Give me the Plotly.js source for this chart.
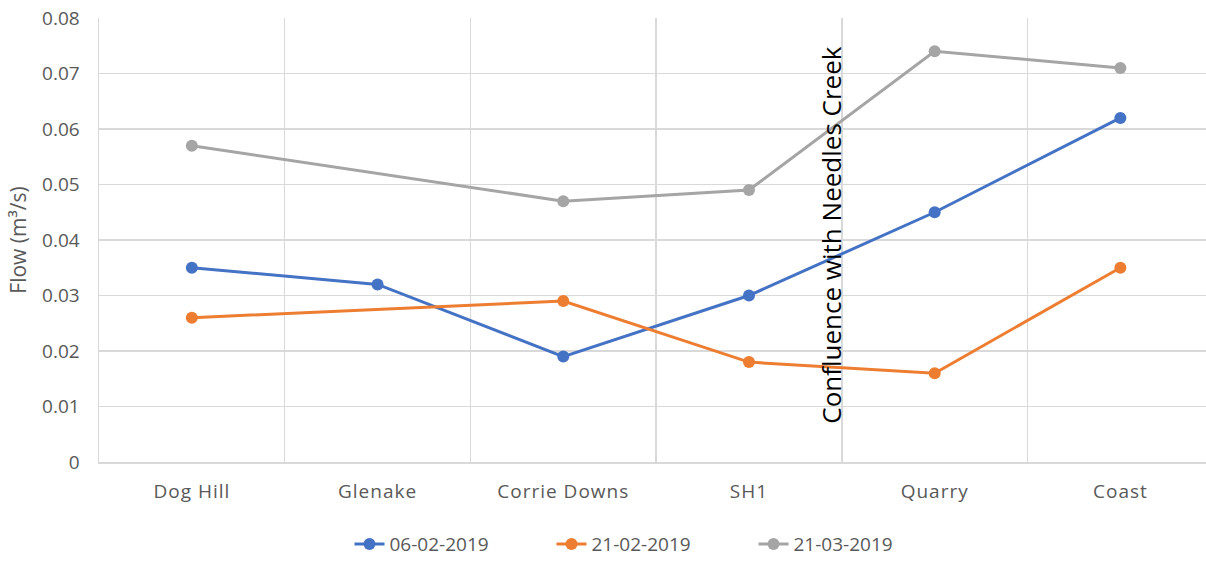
<!DOCTYPE html>
<html>
<head>
<meta charset="utf-8">
<script src="https://cdn.plot.ly/plotly-3.0.1.min.js"></script>
<style>html,body{margin:0;padding:0;background:#fff;}#chart{width:1206px;height:562px;}
.xtick text{letter-spacing:1px;}</style>
</head>
<body>
<div id="chart"></div>
<script>
const sites = ["Dog Hill", "Glenake", "Corrie Downs", "SH1", "Quarry", "Coast"];
const flow_06_02_2019 = [0.035, 0.032, 0.019, 0.030, 0.045, 0.062];
const flow_21_02_2019 = [0.026, null, 0.029, 0.018, 0.016, 0.035];
const flow_21_03_2019 = [0.057, null, 0.047, 0.049, 0.074, 0.071];
const seriesNames = ["06-02-2019", "21-02-2019", "21-03-2019"];
const colors = ["#4472C4", "#ED7D31", "#A5A5A5"];
const noteText = "Confluence with Needles Creek";

const allSeries = [flow_06_02_2019, flow_21_02_2019, flow_21_03_2019];
const traces = allSeries.map((vals, i) => ({
  type: "scatter",
  mode: "lines+markers",
  x: sites,
  y: vals,
  name: seriesNames[i],
  connectgaps: true,
  line: {color: colors[i], width: 3},
  marker: {color: colors[i], size: 12}
}));

const font = "'Open Sans', sans-serif";
const layout = {
  width: 1206,
  height: 562,
  margin: {l: 99, r: 0, t: 18, b: 100, autoexpand: false},
  paper_bgcolor: "#fff",
  plot_bgcolor: "#fff",
  font: {family: font, color: "#595959", size: 19},
  showlegend: true,
  legend: {orientation: "h", x: 0.5, xanchor: "center", y: -0.185, yanchor: "middle",
           font: {size: 19, color: "#595959"}, entrywidth: 157, entrywidthmode: "pixels"},
  xaxis: {
    type: "category",
    range: [-0.5, 5.461],
    tickson: "boundaries",
    showgrid: true,
    gridcolor: "#d9d9d9",
    gridwidth: 1.5,
    showline: true,
    linecolor: "#d9d9d9",
    linewidth: 1.5,
    ticks: "",
    ticklabelstandoff: 12,
    tickfont: {size: 19, color: "#595959"},
    zeroline: false,
    automargin: false
  },
  yaxis: {
    range: [0, 0.08],
    dtick: 0.01,
    tick0: 0,
    showgrid: true,
    gridcolor: "#d9d9d9",
    gridwidth: 1.5,
    showline: true,
    linecolor: "#d9d9d9",
    linewidth: 1.5,
    ticks: "",
    ticklabelstandoff: 14,
    zeroline: false,
    automargin: false,
    tickfont: {size: 19, color: "#595959"},
    title: {text: "Flow (m³/s)", font: {size: 21, color: "#595959"}, standoff: 10}
  },
  annotations: [{
    text: noteText,
    xref: "x", yref: "y",
    x: 3.44, y: 0.0409,
    textangle: -90,
    showarrow: false,
    xanchor: "center", yanchor: "middle",
    font: {family: font, size: 26, color: "#000"}
  }]
};

Plotly.newPlot("chart", traces, layout, {displayModeBar: false, staticPlot: true});
</script>
</body>
</html>
